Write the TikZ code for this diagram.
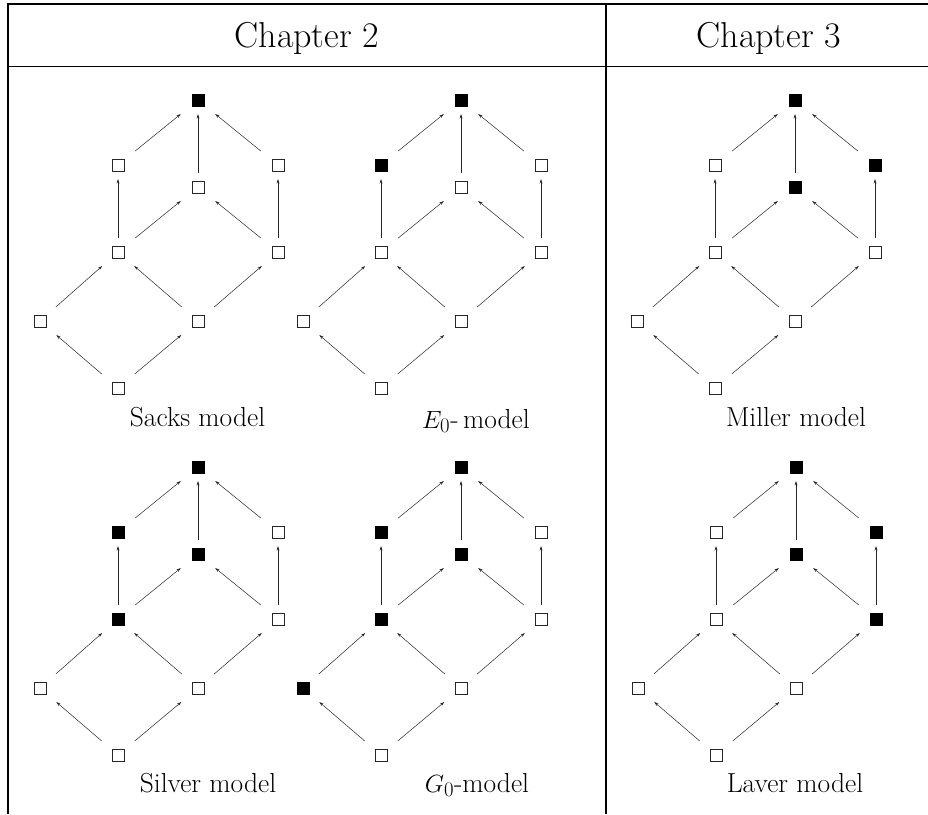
\documentclass[tikz,border=0pt]{standalone}
\usetikzlibrary{arrows.meta}
\tikzset{
  v/.style={rectangle, draw=none, minimum width=38pt, minimum height=28pt, inner sep=0pt, outer sep=0pt,
    path picture={\draw[line width=0.8pt,black!85]
      ([xshift=-6.1pt,yshift=-6.1pt]path picture bounding box.center) rectangle
      ([xshift=6.1pt,yshift=6.1pt]path picture bounding box.center);}},
  ar/.style={-{Stealth[length=4.5pt,width=2.8pt]}, line width=0.5pt, black!85},
  lbl/.style={anchor=base, font=\fontsize{27.5}{32}\selectfont, inner sep=0pt},
  hd/.style={anchor=base, font=\fontsize{36}{42}\selectfont, inner sep=0pt},
  rule/.style={line width=#1, black},
}
\newcommand\lattice[4]{%
  \begin{scope}[shift={(#2,#3)}]
    \node[v] (#1t) at (0,0) {};
    \node[v] (#1a) at (-80,65) {};
    \node[v] (#1c) at (0,87) {};
    \node[v] (#1b) at (80,65) {};
    \node[v] (#1d) at (-80,152) {};
    \node[v] (#1e) at (80,152) {};
    \node[v] (#1f) at (-158,221) {};
    \node[v] (#1g) at (0,221) {};
    \node[v] (#1h) at (-80,288) {};
  \end{scope}
  \foreach \k in {#4} {\fill (#1\k.center) +(-6.5,-6.5) rectangle +(6.5,6.5);}
  \foreach \p/\q in {h/f,h/g,f/d,g/d,g/e,d/a,d/c,e/c,e/b,a/t,c/t,b/t}
    {\draw[ar] (#1\p) -- (#1\q);}
}
\begin{document}
\begin{tikzpicture}[x=1pt,y=-1pt]
\useasboundingbox (0,0) rectangle (928,814);
% table rules
\draw[rule=2pt] (6.8,4.3) -- (928,4.3);
\draw[rule=2pt] (7.8,3.3) -- (7.8,814);
\draw[rule=1.4pt] (7.8,66.3) -- (928,66.3);
\draw[rule=2.2pt] (606,3.3) -- (606,814);
% headers
\node[hd] (ch2) at (307,47) {Chapter 2};
\node[hd] (ch3) at (769,47) {Chapter 3};
% lattices
\lattice{S}{198}{100}{t}
\lattice{E}{461}{100}{t,a}
\lattice{M}{795}{100}{t,c,b}
\lattice{V}{198}{467}{t,a,c,d}
\lattice{G}{461}{467}{t,a,c,d,f}
\lattice{L}{796}{467}{t,c,b,e}
% labels
\node[lbl] (lS) at (197.5,426) {Sacks model};
\node[lbl] (lE) at (476,428) {$E_0$-\,model};
\node[lbl] (lM) at (796,426) {Miller model};
\node[lbl] (lV) at (208,792) {Silver model};
\node[lbl] (lG) at (477,792) {$G_0$-model};
\node[lbl] (lL) at (795,792) {Laver model};
\end{tikzpicture}
\end{document}
